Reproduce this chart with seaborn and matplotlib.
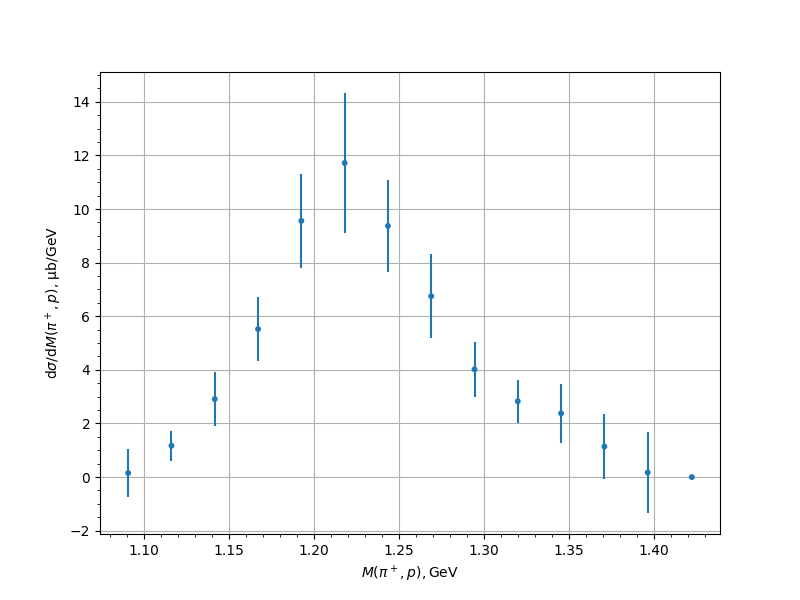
import numpy as np
import pandas as pd
import seaborn as sns
import matplotlib
matplotlib.use("Agg")
import matplotlib.pyplot as plt

# invariant mass bins and measured cross section
mass = [1.0905, 1.116, 1.1415, 1.167, 1.1925, 1.218, 1.2435,
        1.269, 1.2945, 1.32, 1.3455, 1.371, 1.3965, 1.4225]
xsec = [0.15, 1.17, 2.91, 5.52, 9.56, 11.72, 9.37,
        6.75, 4.02, 2.83, 2.38, 1.14, 0.17, 0.0]
xsec_err = [0.90, 0.56, 1.02, 1.19, 1.76, 2.61, 1.70,
            1.56, 1.03, 0.80, 1.10, 1.21, 1.51, 0.0]

df = pd.DataFrame({"mass": mass, "xsec": xsec, "err": xsec_err})

sns.set_style("ticks")
plt.rcParams['font.family'] = ['DejaVu Sans']
plt.rcParams.update({"text.color": "black", "axes.labelcolor": "black",
                     "xtick.color": "black", "ytick.color": "black"})

fig, ax = plt.subplots(figsize=(8, 6), dpi=100)

# error bars, then the points on top
ax.errorbar(df["mass"], df["xsec"], yerr=df["err"], fmt="none",
            ecolor="#1f77b4", elinewidth=1.5)
sns.scatterplot(data=df, x="mass", y="xsec", ax=ax, color="#1f77b4",
                s=18, edgecolor="none", zorder=3)

ax.set_xlabel(r"$M(\pi^+, p), \mathrm{GeV}$")
ax.set_ylabel(r"d$\sigma$/d$M(\pi^+, p)$, μb/GeV")
ax.set_yticks([-2, 0, 2, 4, 6, 8, 10, 12, 14])
ax.minorticks_on()
ax.grid(True, which="major", color="#b0b0b0", linewidth=0.8)
ax.set_axisbelow(True)
for s in ax.spines.values():
    s.set_visible(True)
    s.set_color("black")
    s.set_linewidth(0.8)
ax.tick_params(which="both", direction="out", colors="black")

fig.savefig("out.png", dpi=100)
